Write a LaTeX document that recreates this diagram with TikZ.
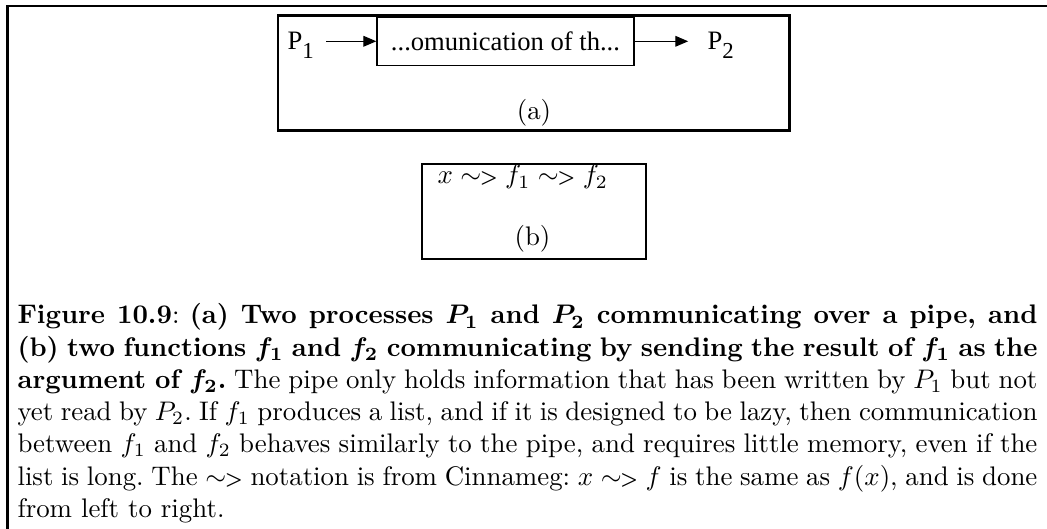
\documentclass[tikz,border=0pt]{standalone}
\usepackage{amsmath}
\usepackage{fontspec}
\newfontfamily\timesfont{Liberation Serif}
\usetikzlibrary{arrows.meta}
\newcommand\squig{\mathrel{\sim\mkern-6mu\text{\bfseries\fontsize{7.5}{8}\selectfont>}}}
\begin{document}
\begin{tikzpicture}[x=0.3722pt,y=-0.3722pt,
  thickline/.style={line width=0.95pt},
  thinbox/.style={draw,line width=0.45pt,inner sep=0pt},
  conn/.style={-{Triangle[length=4.8pt,width=4pt]},line width=0.4pt},
  timesnode/.style={font=\timesfont\fontsize{9.9}{12}\selectfont,inner sep=0pt},
  cmnode/.style={font=\fontsize{10}{12}\selectfont,inner sep=0pt},
  captionnode/.style={font=\fontsize{10}{12}\selectfont\frenchspacing,inner sep=0pt,text width=379.6pt,align=justify}
  ]
\useasboundingbox (0,0) rectangle (1047,529);
% outer frame (top and left)
\draw[line width=1.05pt] (1047,6) -- (7.5,6) -- (7.5,529);
% panel (a)
\draw[thickline] (278,15.3) rectangle (789.5,130.5);
\node[thinbox,timesnode,minimum width=95.7pt,minimum height=17.9pt] (pipe) at (505.5,41.3) {...omunication of th...};
\node[timesnode,anchor=base west] (p1) at (287,50) {P\raisebox{-0.32em}{\fontsize{8.5}{9}\selectfont 1}};
\node[timesnode,anchor=base west] (p2) at (707,50) {P\raisebox{-0.32em}{\fontsize{8.5}{9}\selectfont 2}};
\draw[conn,shorten <=4.4pt] (p1.east |- pipe.west) -- (pipe.west);
\draw[conn,shorten >=7pt] (pipe.east) -- (p2.west |- pipe.east);
\node[cmnode,anchor=base] (la) at (534,120) {(a)};
% panel (b)
\draw[thickline] (422,164) rectangle (646,259);
\node[cmnode,anchor=base west] (fb) at (437,184) {$x \squig f_1 \squig f_2$};
\node[cmnode,anchor=base] (lb) at (532.5,246) {(b)};
% caption
\node[captionnode,anchor=base west] (cap) at (17,324) {\textbf{Figure 10.9}: \textbf{\boldmath(a) Two processes $P_1$ and $P_2$ communicating over a pipe, and\linebreak (b) two functions $f_1$ and $f_2$ communicating by sending the result of $f_1$ as the\linebreak argument of $f_2$.} The pipe only holds information that has been written by $P_1$ but not\linebreak yet read by $P_2$. If $f_1$ produces a list, and if it is designed to be lazy, then communication\linebreak between $f_1$ and $f_2$ behaves similarly to the pipe, and requires little memory, even if the\linebreak list is long. The $\squig$ notation is from Cinnameg: $x \squig f$ is the same as $f(x)$, and is done\linebreak from left to right.};
\end{tikzpicture}
\end{document}
